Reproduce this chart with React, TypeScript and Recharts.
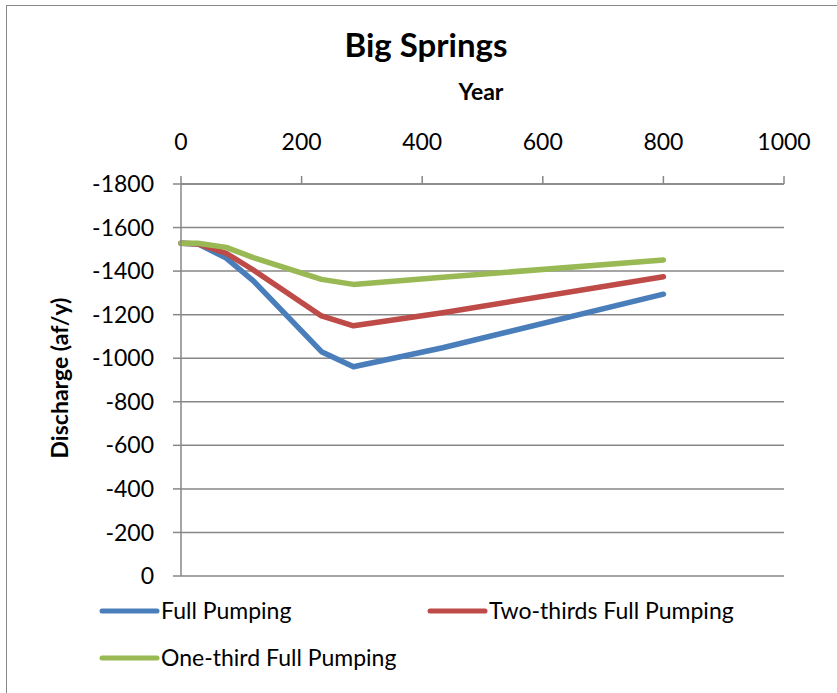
import { LineChart, Line, XAxis, YAxis, CartesianGrid } from 'recharts';

const years = [0, 28, 75, 120, 233, 286, 434, 800];
const fullPumping = [-1528, -1525, -1460, -1355, -1030, -961, -1048, -1294];
const twoThirdsPumping = [-1528, -1525, -1482, -1405, -1194, -1149, -1209, -1374];
const oneThirdPumping = [-1528, -1528, -1509, -1462, -1362, -1339, -1372, -1451];

const xTicks = [0, 200, 400, 600, 800, 1000];
const yTicks = [-1800, -1600, -1400, -1200, -1000, -800, -600, -400, -200, 0];

const series = [
  { key: 'full', name: 'Full Pumping', color: '#4A7EBB' },
  { key: 'two', name: 'Two-thirds Full Pumping', color: '#BE4B48' },
  { key: 'one', name: 'One-third Full Pumping', color: '#98B954' },
];

const data = years.map((year, i) => ({
  year,
  full: fullPumping[i],
  two: twoThirdsPumping[i],
  one: oneThirdPumping[i],
}));

const font = 'Lato, "Open Sans", sans-serif';
const grey = '#878787';

// legend slots, Excel-style two per row
const legendPos = [
  { x: 102, y: 611 },
  { x: 430, y: 611 },
  { x: 102, y: 658 },
];

export default function App() {
  return (
    <div style={{ position: 'absolute', left: 0, top: 0, width: 837, height: 693, overflow: 'hidden', background: '#fff' }}>
      <div style={{ position: 'absolute', left: 6, top: 5, width: 900, height: 800, border: `1.5px solid ${grey}` }} />
      <LineChart
        width={837}
        height={693}
        data={data}
        margin={{ top: 0, right: 53, bottom: 117, left: 0 }}
        style={{ position: 'absolute', left: 0, top: 0, fontFamily: font }}
      >
        <CartesianGrid vertical={false} stroke={grey} strokeWidth={1.5} />
        <XAxis
          dataKey="year"
          type="number"
          orientation="top"
          domain={[0, 1000]}
          ticks={xTicks}
          height={184}
          tickSize={8}
          tickMargin={26}
          axisLine={{ stroke: grey, strokeWidth: 1.5 }}
          tickLine={{ stroke: grey, strokeWidth: 1.5 }}
          tick={{ fill: '#000', fontSize: 23, fontFamily: font }}
          interval={0}
        />
        <YAxis
          type="number"
          domain={[-1800, 0]}
          reversed
          ticks={yTicks}
          width={181}
          tickSize={8}
          tickMargin={19}
          axisLine={{ stroke: grey, strokeWidth: 1.5 }}
          tickLine={{ stroke: grey, strokeWidth: 1.5 }}
          tick={{ fill: '#000', fontSize: 23, fontFamily: font }}
          interval={0}
        />
        {series.map((s) => (
          <Line
            key={s.key}
            type="linear"
            dataKey={s.key}
            name={s.name}
            stroke={s.color}
            strokeWidth={5.5}
            strokeLinecap="round"
            strokeLinejoin="round"
            dot={false}
            activeDot={false}
            isAnimationActive={false}
          />
        ))}
      </LineChart>
      <svg width={837} height={693} style={{ position: 'absolute', left: 0, top: 0, pointerEvents: 'none', fontFamily: font }}>
        <text x={426} y={57} textAnchor="middle" fontSize={33} fontWeight="bold" fill="#000">Big Springs</text>
        <text x={481} y={100} textAnchor="middle" fontSize={23} fontWeight="bold" fill="#000">Year</text>
        <text x={68} y={378} textAnchor="middle" fontSize={23} fontWeight="bold" fill="#000" transform="rotate(-90 68 378)">
          Discharge (af/y)
        </text>
        {series.map((s, i) => (
          <g key={s.key}>
            <line x1={legendPos[i].x} y1={legendPos[i].y} x2={legendPos[i].x + 55} y2={legendPos[i].y} stroke={s.color} strokeWidth={5} strokeLinecap="round" />
            <text x={legendPos[i].x + 59} y={legendPos[i].y + 8} fontSize={23} fill="#000">{s.name}</text>
          </g>
        ))}
      </svg>
    </div>
  );
}
